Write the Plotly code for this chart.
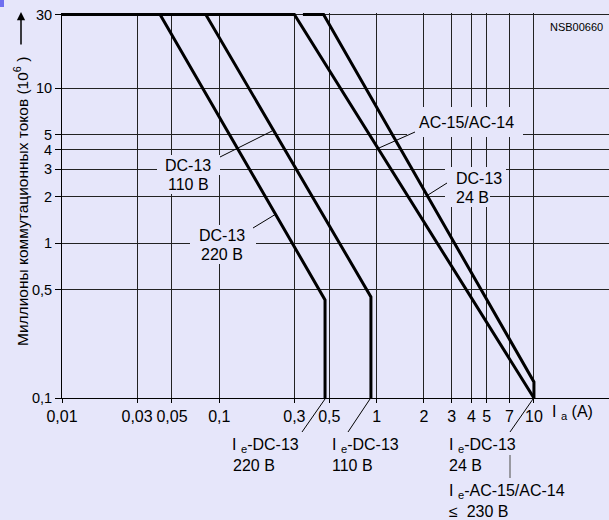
import math
import plotly.graph_objects as go

# ---------------- data ----------------
x_ticks = [0.01, 0.03, 0.05, 0.1, 0.3, 0.5, 1, 2, 3, 4, 5, 7, 10]
x_tick_labels = ["0,01", "0,03", "0,05", "0,1", "0,3", "0,5", "1", "2", "3", "4", "5", "7", "10"]
y_ticks = [0.1, 0.5, 1, 2, 3, 4, 5, 10, 30]
y_tick_labels = ["0,1", "0,5", "1", "2", "3", "4", "5", "10", "30"]

dc13_220_x = [0.01, 0.042, 0.47, 0.47]
dc13_220_y = [30, 30, 0.43, 0.1]
dc13_110_x = [0.01, 0.082, 0.92, 0.92]
dc13_110_y = [30, 30, 0.45, 0.1]
ac15_ac14_x = [0.01, 0.30, 10]
ac15_ac14_y = [30, 30, 0.1]
dc13_24_x = [0.34, 0.46, 10, 10]
dc13_24_y = [30, 30, 0.127, 0.1]

# ---------------- layout geometry ----------------
W, H = 609, 520
L, R, T, B = 62, 0, 13, 122
PW, PH = W - L - R, H - T - B
BG = "#e6e6fa"
FONT = "Liberation Sans, Arial, sans-serif"


def px(x):
    return (x - L) / PW


def py(y):
    return (H - B - y) / PH


fig = go.Figure()
for xs, ys in [(dc13_220_x, dc13_220_y), (dc13_110_x, dc13_110_y),
               (ac15_ac14_x, ac15_ac14_y), (dc13_24_x, dc13_24_y)]:
    fig.add_trace(go.Scatter(x=xs, y=ys, mode="lines",
                             line=dict(color="black", width=3),
                             showlegend=False, hoverinfo="skip"))

shapes = []
# masks behind labels (hide the grid)
masks = [
    (157, 220, 155, 175), (160, 216, 175, 194),      # DC-13 110 B
    (190, 256, 225, 245), (192, 252, 245, 264),      # DC-13 220 B
    (407, 523, 107, 137),                            # AC-15/AC-14
    (445, 506, 167, 188), (445, 490, 188, 207),      # DC-13 24 B
]
for x0, x1, y0, y1 in masks:
    shapes.append(dict(type="rect", xref="paper", yref="paper", layer="above",
                       x0=px(x0), x1=px(x1), y0=py(y1), y1=py(y0),
                       fillcolor=BG, line=dict(width=0)))
leaders = [
    (220, 157, 272, 131), (253, 228, 276, 214), (415, 132, 379, 148),
    (447, 183, 428, 195), (302, 432, 325, 399), (348, 432, 370, 399),
    (510, 432, 533, 399),
]
for x0, y0, x1, y1 in leaders:
    shapes.append(dict(type="line", xref="paper", yref="paper", layer="above",
                       x0=px(x0), y0=py(y0), x1=px(x1), y1=py(y1),
                       line=dict(color="black", width=1)))
shapes.append(dict(type="line", xref="paper", yref="paper", layer="above",
                   x0=px(510), y0=py(455), x1=px(510), y1=py(478),
                   line=dict(color="#666666", width=1.2)))
shapes.append(dict(type="rect", xref="paper", yref="paper", layer="above",
                   x0=px(0), x1=px(4), y0=py(7), y1=py(0),
                   fillcolor="#6f6ff0", line=dict(width=0)))

ann = []


def label(text, x, y, anchor="center", size=16):
    ann.append(dict(text=text, x=px(x), y=py(y), xref="paper", yref="paper",
                    xanchor=anchor, yanchor="middle", showarrow=False,
                    font=dict(family=FONT, size=size, color="black")))


label("DC-13", 188, 165)
label("110 B", 188, 184)
label("DC-13", 222, 235)
label("220 B", 222, 254)
label("AC-15/AC-14", 466, 122)
label("DC-13", 454, 178, "left")
label("24 B", 454, 197, "left")
label("NSB00660", 576, 27, size=11)

label("I <sub>e</sub>-DC-13", 230, 445, "left")
label("220 B", 231, 465, "left")
label("I <sub>e</sub>-DC-13", 330, 445, "left")
label("110 B", 330, 465, "left")
label("I <sub>e</sub>-DC-13", 447, 445, "left")
label("24 B", 447, 465, "left")
label("I <sub>e</sub>-AC-15/AC-14", 447, 491, "left")
label("≤  230 B", 447, 511, "left")
label("I <sub>a</sub> (A)", 550, 412, "left")

# y title with arrow
ann.append(dict(text="Миллионы коммутационных токов (10<sup>6</sup> )",
                x=px(21), y=py(202), xref="paper", yref="paper",
                textangle=-90, xanchor="center", yanchor="middle", showarrow=False,
                font=dict(family=FONT, size=15.5, color="black")))
ann.append(dict(text="", x=px(21), y=py(12), xref="paper", yref="paper",
                showarrow=True, ax=0, ay=34, arrowhead=2, arrowsize=1.1,
                arrowwidth=1.5, arrowcolor="black"))

fig.update_layout(
    width=W, height=H,
    margin=dict(l=L, r=R, t=T, b=B, pad=0),
    paper_bgcolor=BG, plot_bgcolor=BG,
    font=dict(family=FONT, size=16, color="black"),
    shapes=shapes, annotations=ann, showlegend=False,
)
fig.update_xaxes(type="log", range=[-2, math.log10(30)],
                 tickvals=x_ticks, ticktext=x_tick_labels,
                 showgrid=True, gridcolor="#222222", gridwidth=1,
                 showline=True, linecolor="black", linewidth=1,
                 ticks="outside", ticklen=4, tickcolor="black",
                 tickfont=dict(family=FONT, size=16), zeroline=False)
fig.update_yaxes(type="log", range=[-1, 1.4868],
                 tickvals=y_ticks, ticktext=y_tick_labels,
                 showgrid=True, gridcolor="#222222", gridwidth=1,
                 showline=True, linecolor="black", linewidth=1,
                 ticks="outside", ticklen=6, tickcolor="black",
                 tickfont=dict(family=FONT, size=14.5), zeroline=False)

fig.write_html("out.html", config={"displayModeBar": False},
               post_script="document.body.style.margin='0px';document.body.style.overflow='hidden';")
